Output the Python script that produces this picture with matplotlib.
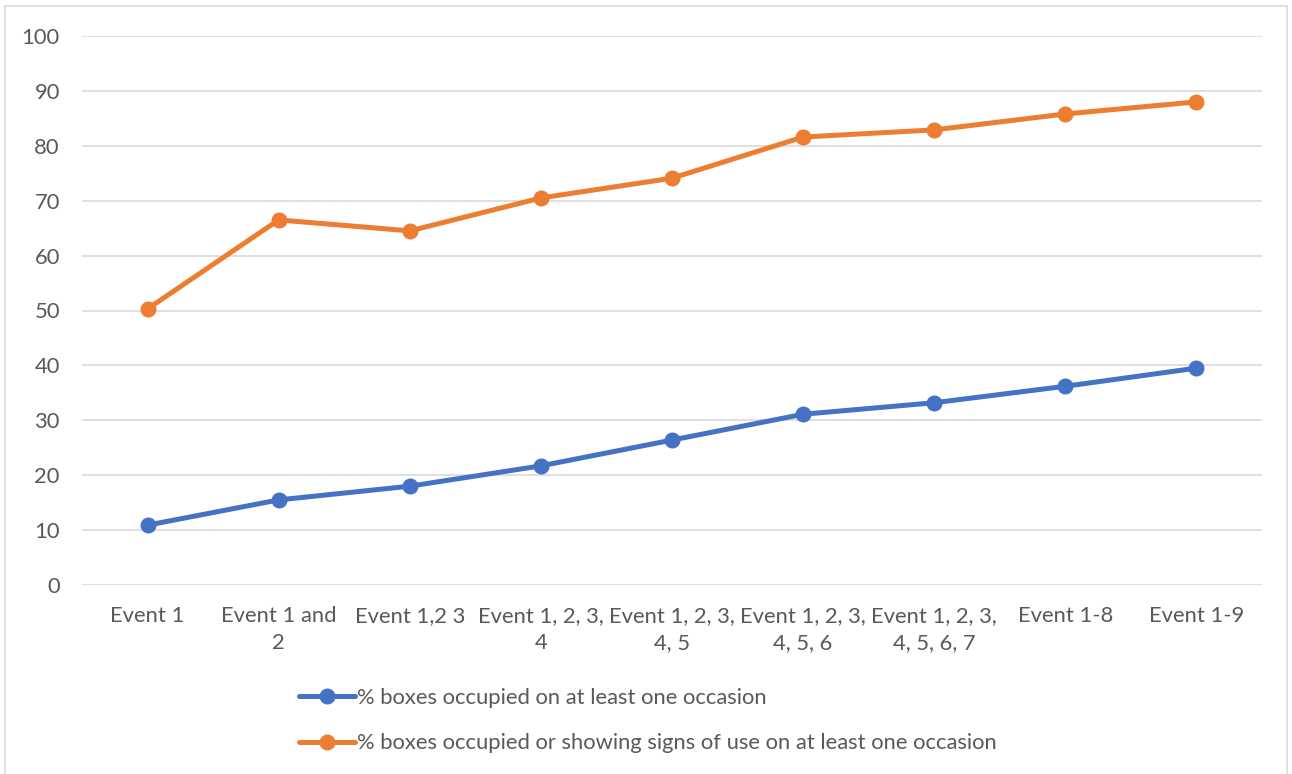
import matplotlib
matplotlib.use("Agg")
import matplotlib.pyplot as plt
from matplotlib.patches import Rectangle

plt.rcParams['font.family'] = ['Lato', 'DejaVu Sans']

categories = ["Event 1", "Event 1 and\n2", "Event 1,2 3", "Event 1, 2, 3,\n4",
              "Event 1, 2, 3,\n4, 5", "Event 1, 2, 3,\n4, 5, 6", "Event 1, 2, 3,\n4, 5, 6, 7",
              "Event 1-8", "Event 1-9"]
occupied = [10.9, 15.5, 18.0, 21.7, 26.4, 31.1, 33.2, 36.2, 39.5]
occupied_or_signs = [50.3, 66.5, 64.5, 70.5, 74.1, 81.6, 82.9, 85.8, 88.0]
series_names = ["% boxes occupied on at least one occasion",
                "% boxes occupied or showing signs of use on at least one occasion"]
yticks = [0, 10, 20, 30, 40, 50, 60, 70, 80, 90, 100]

W, H = 1292, 774
FS = 15.8
fig = plt.figure(figsize=(W / 100, H / 100), dpi=100)
ax = fig.add_axes([82 / W, (H - 585) / H, 1180 / W, 549 / H])

x = list(range(len(categories)))
l1, = ax.plot(x, occupied, color="#4472C4", lw=3.6, marker="o", ms=10.5,
              solid_capstyle="round", label=series_names[0])
l2, = ax.plot(x, occupied_or_signs, color="#ED7D31", lw=3.6, marker="o", ms=10.5,
              solid_capstyle="round", label=series_names[1])

ax.set_xlim(-0.5, len(categories) - 0.5)
ax.set_ylim(0, 100)
ax.set_yticks(yticks)
ax.set_xticks(x)
ax.set_xticklabels(categories, linespacing=1.45)
ax.tick_params(axis="both", length=0, colors="#595959", labelsize=FS)
ax.tick_params(axis="x", pad=15)
ax.tick_params(axis="y", pad=16)
ax.grid(axis="y", color="#D9D9D9", lw=1.2)
ax.set_axisbelow(True)
for s in ax.spines.values():
    s.set_visible(False)

leg = fig.legend(handles=[l1, l2], loc="upper left",
                 bbox_to_anchor=(299 / W, 1 - 688 / H), frameon=False,
                 fontsize=FS, handlelength=2.55, handletextpad=0.08,
                 labelspacing=1.15, borderpad=0, borderaxespad=0)
for t in leg.get_texts():
    t.set_color("#595959")

fig.patches.append(Rectangle((5 / W, -0.01), 1282 / W, 1 - 6 / H + 0.01,
                             transform=fig.transFigure, fill=False,
                             edgecolor="#D9D9D9", lw=1.2))

fig.savefig("out.png", dpi=100, facecolor="white")
